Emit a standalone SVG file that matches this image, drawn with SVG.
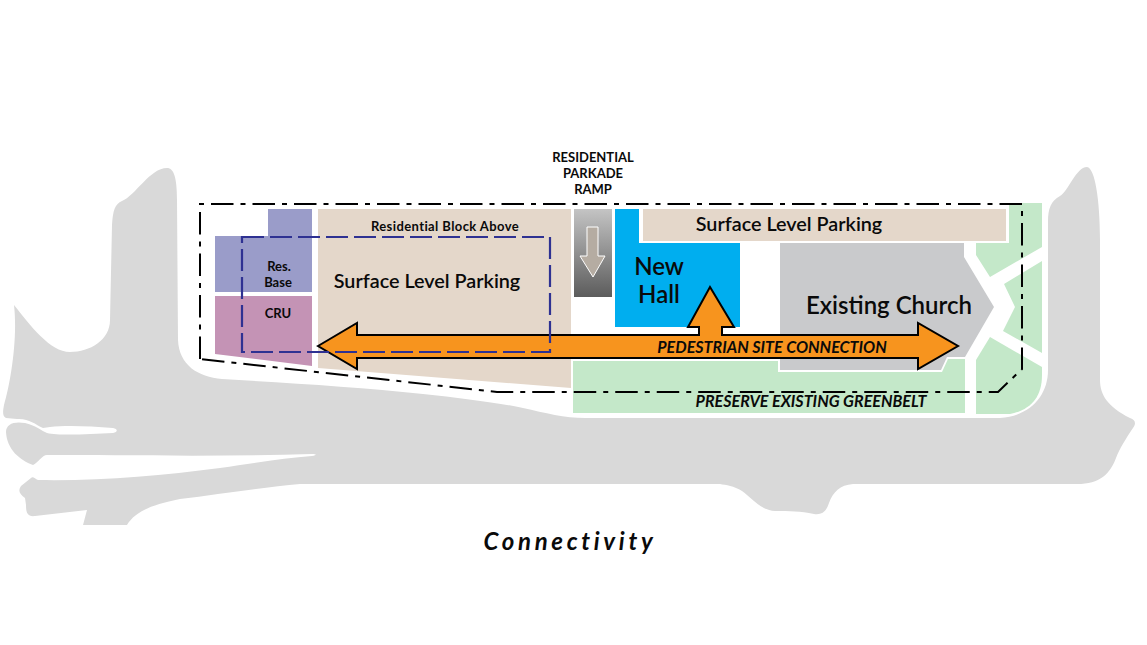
<svg xmlns="http://www.w3.org/2000/svg" width="1147" height="645" viewBox="0 0 1147 645">
<style>
text{font-family:Lato,"Liberation Sans",sans-serif;fill:#0a0a0a;text-anchor:middle}
.beige{fill:#e4d7ca}.green{fill:#c4e8c9}
.lbl{font-weight:600;font-size:19.8px}
.sm{font-weight:700;font-size:13px}
.it{font-weight:700;font-style:italic;font-size:16.1px}
.big{font-size:24px;font-weight:600}
.orange{fill:#f7941e;stroke:#000;stroke-width:2;stroke-linejoin:miter}
</style>
<defs><linearGradient id="ramp" x1="0" y1="0" x2="0" y2="1"><stop offset="0" stop-color="#c4c4c4"/><stop offset="1" stop-color="#5c5c5c"/></linearGradient></defs>
<rect width="1147" height="645" fill="#fff"/>
<g id="road">
<path fill="#d9d9d9" d="M167 168C174 168 177 178 177 200L178 340C179 365 198 377 222 379C290 383 360 387 423 394C460 398 500 403 523 408C545 413 565 418 585 418L1000 418C1030 416 1048 396 1048 370L1048 222C1048 208 1051 201 1060 196C1068 192 1076 167 1087 167C1095 168 1100 200 1100 240L1100 380C1100 395 1108 407 1130 418C1136 420 1136 424 1133 428C1125 440 1120 448 1116 458C1110 474 1100 484 1077 484L853 484C840 485 833 492 829 503C826 512 822 515 814 514C800 511 790 511 775 511C760 510 752 498 742 491C734 486 726 485 720 484L300 484C265 487 220 494 180 499C150 505 135 512 127 525L83 525L87 510L35 516C27 517 26 512 26 505L25 498C19 494 18 490 21 486L31 478C33 476 35 479 38 480C100 481 160 476 220 468C255 463 285 458 312 456C318 455 316 454 312 454C220 457 120 455 47 455C42 455 38 463 33 465C20 460 7 450 6 432C6 424 14 421 25 423C35 425 42 431 47 433C60 436 90 434 113 433C118 432 118 429 113 428C90 426 65 425 50 427L43 428C35 424 28 418 17 419L6 418C2 416 3 411 4 405C10 385 18 340 14 305C30 325 50 352 70 352C90 352 110 340 110 320L112 225C113 210 115 204 122 201C135 196 150 168 167 168Z"/>
</g>
<g id="green-belt"><path class="green" d="M573 361H778V372H942L948 359H965V413H573Z"/></g>
<g id="green-ne"><path class="green" d="M1009 203H1042V247L990 277L976 255V243H1009Z"/></g>
<g id="green-e"><path class="green" d="M1042 261V353L1003 331L1015 307L1004 284Z"/></g>
<g id="green-se"><path class="green" d="M990 337L1042 367V375C1042 398 1030 410 1010 414H976V360Z"/></g>
<g id="residential-base"><path fill="#9a9cc9" d="M268 209H312V292H215V236H268Z"/>
<text x="279" y="271" class="sm">Res.</text><text x="278" y="287" class="sm">Base</text></g>
<g id="cru"><path fill="#c493b5" d="M215 296H312V366L215 354Z"/><text x="278" y="318" class="sm">CRU</text></g>
<g id="surface-parking-west"><path class="beige" d="M318 209H571V388L318 368Z"/>
<text x="445" y="231" class="sm" style="letter-spacing:.4px">Residential Block Above</text><text x="427" y="288" class="lbl">Surface Level Parking</text></g>
<g id="ramp-node"><rect x="574" y="209" width="38" height="88" fill="url(#ramp)"/>
<path fill="#b5aca2" stroke="#fff" stroke-width="1" d="M587 227H598V256H605L593 277L580 256H587Z"/></g>
<g id="ramp-label"><text x="593" y="162" class="sm">RESIDENTIAL</text><text x="593" y="178" class="sm">PARKADE</text><text x="593" y="194" class="sm">RAMP</text></g>
<g id="new-hall"><path fill="#00aeef" d="M615 209H639V243H740V327H615Z"/>
<text x="659" y="275" class="big">New</text><text x="659" y="303" class="big">Hall</text></g>
<g id="surface-parking-north"><rect class="beige" x="643" y="209" width="363" height="32"/><text x="789" y="231" class="lbl">Surface Level Parking</text></g>
<g id="church"><path fill="#c9cacc" d="M780 243H964V257L994 307L965 357H947L941 370H780Z"/><text x="889" y="314" class="big">Existing Church</text></g>
<g id="connectors">
<path class="orange" d="M318 346L357 323V335H699V327H688L710 287L734 327H722V335H918V323L958 346L918 369V358H357V369Z"/>
<path fill="none" stroke="#000" stroke-width="2" stroke-dasharray="22.5 7 5 7" d="M200 359V204H1022V369L998 392H497Z"/>
<rect x="242" y="237" width="308" height="115" fill="none" stroke="#2e3192" stroke-width="2.2" stroke-dasharray="22 6"/>
</g>
<g id="labels">
<text x="772" y="353" class="it">PEDESTRIAN SITE CONNECTION</text>
<text x="811" y="407" class="it">PRESERVE EXISTING GREENBELT</text>
<text x="570" y="550" style="font-size:24px;font-weight:700;font-style:italic;letter-spacing:3.7px">Connectivity</text>
</g>
</svg>
